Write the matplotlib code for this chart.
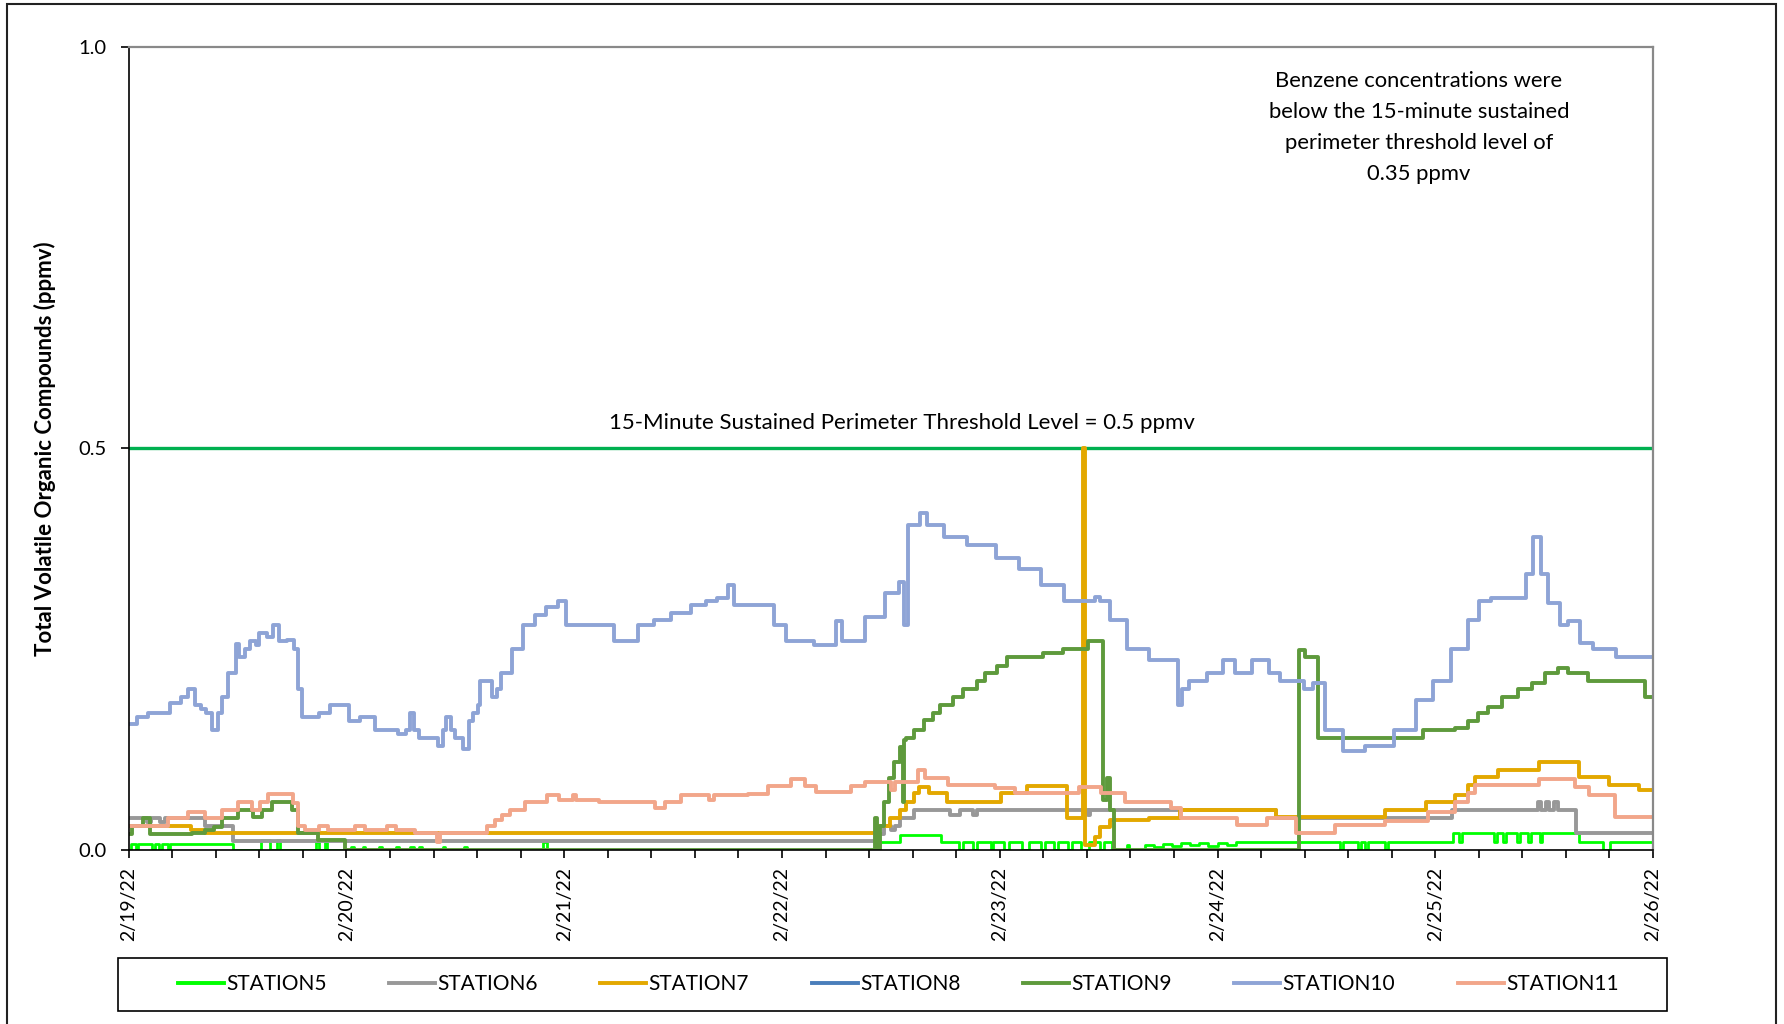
import matplotlib
matplotlib.use("Agg")
import matplotlib.pyplot as plt
from matplotlib.lines import Line2D
from matplotlib.patches import Rectangle
from matplotlib.ticker import MultipleLocator, FixedLocator, FixedFormatter
import numpy as np

plt.rcParams['font.family'] = ['Lato', 'DejaVu Sans']

# x axis: hours after 2/19/22 00:00, y: ppmv
DATE_LABELS = ["2/19/22", "2/20/22", "2/21/22", "2/22/22", "2/23/22", "2/24/22", "2/25/22", "2/26/22"]
STATIONS = ["STATION5", "STATION6", "STATION7", "STATION8", "STATION9", "STATION10", "STATION11"]
COLORS = ["#00FF00", "#989898", "#E3A800", "#4A7EBB", "#5E9A3C", "#8EA4D6", "#F2A68A"]
THRESHOLD = 0.5

STATION5 = [(0, 0.0), (0.3, 0.007), (0.8, 0.0), (1.0, 0.007), (2.6, 0.0), (2.9, 0.007), (3.4, 0.0),
            (3.7, 0.007), (4.3, 0.0), (4.6, 0.007), (11.5, 0.0), (14.6, 0.013), (15.6, 0.0),
            (16.4, 0.013), (16.7, 0.0), (20.6, 0.01), (21.0, 0.0), (21.6, 0.01), (21.9, 0.0),
            (24.5, 0.004), (24.8, 0.0), (25.8, 0.004), (26.1, 0.0), (27.6, 0.004), (27.9, 0.0),
            (29.5, 0.004), (29.8, 0.0), (31.0, 0.004), (31.4, 0.0), (32.0, 0.004), (32.3, 0.0),
            (34.6, 0.004), (34.9, 0.0), (37.0, 0.004), (37.3, 0.0), (45.7, 0.01), (46.1, 0.0),
            (82.6, 0.01), (85.0, 0.019), (89.5, 0.01), (91.5, 0.0), (92.0, 0.01), (93.0, 0.0),
            (93.5, 0.01), (95.0, 0.0), (95.3, 0.01), (96.5, 0.0), (97.0, 0.01), (98.5, 0.0),
            (99.2, 0.01), (100.5, 0.0), (101.0, 0.01), (102.0, 0.0), (102.4, 0.01), (103.5, 0.0),
            (104.0, 0.01), (105.0, 0.0), (105.8, 0.01), (107.0, 0.0), (107.5, 0.01), (108.4, 0.0),
            (110.0, 0.006), (110.3, 0.0), (112.0, 0.006), (113.0, 0.004), (114.0, 0.008),
            (115.0, 0.005), (116.0, 0.009), (117.0, 0.006), (118.0, 0.009), (119.0, 0.005),
            (120.0, 0.009), (121.0, 0.006), (122.0, 0.01), (133.5, 0.0), (133.8, 0.01),
            (135.5, 0.0), (135.8, 0.01), (136.3, 0.0), (136.6, 0.01), (138.5, 0.0), (138.8, 0.01),
            (146.0, 0.021), (146.6, 0.01), (146.9, 0.021), (150.5, 0.01), (150.8, 0.021),
            (151.5, 0.01), (151.8, 0.021), (153.0, 0.01), (153.3, 0.021), (154.2, 0.01),
            (154.5, 0.021), (155.5, 0.01), (155.8, 0.021), (159.8, 0.01), (162.5, 0.0),
            (163.3, 0.01), (168.0, 0.01)]

STATION6 = [(0, 0.04), (2.0, 0.035), (2.5, 0.04), (3.5, 0.035), (4.0, 0.04), (8.4, 0.03),
            (11.5, 0.011), (82.5, 0.02), (83.3, 0.03), (84.0, 0.025), (84.5, 0.03), (85.0, 0.04),
            (86.6, 0.05), (90.5, 0.043), (91.6, 0.05), (93.0, 0.043), (93.5, 0.05), (105.7, 0.043),
            (106.0, 0.05), (126.5, 0.04), (145.8, 0.05), (155.3, 0.06), (155.6, 0.05), (156.2, 0.06),
            (156.5, 0.05), (157.1, 0.06), (157.5, 0.05), (159.5, 0.021), (168.0, 0.021)]

STATION7 = [(0, 0.03), (6.9, 0.025), (8.4, 0.021), (82.5, 0.03), (83.9, 0.04), (85.0, 0.05),
            (85.7, 0.06), (86.6, 0.071), (87.1, 0.078), (88.2, 0.071), (90.2, 0.06), (96.1, 0.071),
            (99.0, 0.08), (103.4, 0.04), (105.2, 0.5), (105.45, 0.006), (106.5, 0.016),
            (107.1, 0.029), (108.2, 0.037), (112.4, 0.04), (115.9, 0.05), (126.5, 0.041),
            (138.5, 0.05), (143.0, 0.06), (146.2, 0.068), (147.6, 0.081), (148.4, 0.091),
            (150.9, 0.1), (155.4, 0.11), (159.8, 0.091), (163.1, 0.081), (166.4, 0.075),
            (168.0, 0.075)]

STATION8 = []  # no readings shown

STATION9 = [(0, 0.02), (0.4, 0.03), (1.6, 0.04), (2.4, 0.02), (7.0, 0.021), (8.4, 0.025),
            (9.4, 0.029), (10.3, 0.04), (12.0, 0.05), (13.7, 0.041), (14.7, 0.05), (15.8, 0.06),
            (18.0, 0.05), (18.7, 0.021), (20.9, 0.013), (23.9, 0.0), (82.2, 0.04), (82.5, 0.0),
            (82.8, 0.03), (83.2, 0.06), (83.8, 0.09), (84.4, 0.11), (85.0, 0.128), (85.3, 0.06),
            (85.4, 0.137), (85.7, 0.14), (86.5, 0.15), (87.6, 0.162), (88.7, 0.17), (89.4, 0.18),
            (90.9, 0.19), (92.0, 0.2), (93.5, 0.21), (94.4, 0.22), (95.7, 0.229), (96.8, 0.24),
            (100.8, 0.245), (103.0, 0.25), (105.7, 0.26), (107.4, 0.062), (107.8, 0.09),
            (108.2, 0.05), (108.6, 0.0), (129.0, 0.249), (129.6, 0.24), (131.1, 0.14),
            (142.7, 0.15), (146.2, 0.152), (147.6, 0.16), (148.7, 0.17), (149.8, 0.178),
            (151.3, 0.19), (153.1, 0.2), (154.7, 0.208), (156.1, 0.22), (157.5, 0.227),
            (158.6, 0.22), (160.8, 0.21), (167.1, 0.19), (168.0, 0.19)]

STATION10 = [(0, 0.157), (0.9, 0.165), (2.1, 0.17), (4.6, 0.183), (5.8, 0.19), (6.5, 0.20),
             (7.3, 0.18), (8.0, 0.175), (8.5, 0.17), (9.2, 0.15), (9.8, 0.17), (10.3, 0.19),
             (11.0, 0.22), (11.8, 0.256), (12.2, 0.24), (12.8, 0.25), (13.4, 0.26), (14.0, 0.255),
             (14.4, 0.27), (15.3, 0.265), (15.9, 0.28), (16.6, 0.26), (17.5, 0.262), (18.2, 0.25),
             (18.7, 0.20), (19.1, 0.165), (21.0, 0.17), (22.2, 0.18), (24.3, 0.16), (25.5, 0.165),
             (27.2, 0.15), (29.7, 0.145), (30.6, 0.15), (31.0, 0.17), (31.5, 0.15), (32.0, 0.14),
             (34.1, 0.13), (34.6, 0.15), (35.0, 0.165), (35.5, 0.15), (36.0, 0.14), (36.9, 0.126),
             (37.5, 0.16), (38.0, 0.17), (38.5, 0.18), (38.7, 0.21), (40.0, 0.19), (40.6, 0.2),
             (41.0, 0.22), (42.3, 0.25), (43.5, 0.28), (44.8, 0.293), (46.0, 0.303), (47.3, 0.31),
             (48.2, 0.28), (51.0, 0.28), (53.5, 0.26), (56.1, 0.28), (57.9, 0.286), (59.8, 0.295),
             (62.0, 0.305), (63.6, 0.31), (64.8, 0.314), (66.1, 0.33), (66.7, 0.305), (71.1, 0.28),
             (72.4, 0.26), (75.5, 0.255), (78.0, 0.285), (78.6, 0.26), (81.1, 0.29), (83.4, 0.32),
             (84.9, 0.333), (85.4, 0.28), (85.9, 0.405), (87.2, 0.42), (88.0, 0.405), (89.9, 0.39),
             (92.4, 0.38), (95.6, 0.364), (98.1, 0.35), (100.6, 0.33), (103.1, 0.31),
             (106.5, 0.315), (107.0, 0.31), (108.1, 0.286), (110.0, 0.25), (112.5, 0.236),
             (115.6, 0.18), (116.1, 0.2), (116.9, 0.21), (118.8, 0.22), (120.6, 0.236),
             (121.9, 0.22), (123.8, 0.236), (125.7, 0.22), (126.9, 0.21), (129.5, 0.2),
             (130.5, 0.208), (131.9, 0.15), (133.8, 0.123), (136.3, 0.13), (139.4, 0.15),
             (141.9, 0.187), (143.8, 0.21), (145.7, 0.25), (147.6, 0.286), (148.8, 0.31),
             (150.1, 0.314), (153.2, 0.314), (154.0, 0.343), (154.8, 0.39), (155.7, 0.343),
             (156.4, 0.307), (157.8, 0.28), (158.6, 0.285), (159.9, 0.258), (161.4, 0.25),
             (163.9, 0.24), (168.0, 0.24)]

STATION11 = [(0, 0.03), (4.3, 0.04), (6.5, 0.047), (8.4, 0.04), (10.3, 0.05), (12.0, 0.06),
             (13.6, 0.05), (14.5, 0.06), (15.4, 0.07), (18.1, 0.058), (18.7, 0.03), (19.4, 0.025),
             (21.0, 0.03), (22.0, 0.025), (25.0, 0.03), (26.0, 0.025), (28.5, 0.03), (29.5, 0.025),
             (31.6, 0.021), (34.0, 0.01), (34.3, 0.021), (39.5, 0.03), (40.4, 0.037), (41.2, 0.043),
             (42.0, 0.05), (43.7, 0.06), (46.1, 0.068), (47.4, 0.062), (49.0, 0.068), (49.3, 0.062),
             (51.8, 0.06), (58.0, 0.052), (59.1, 0.06), (60.9, 0.068), (64.0, 0.062), (64.5, 0.068),
             (68.3, 0.07), (70.5, 0.08), (73.0, 0.088), (74.5, 0.08), (75.8, 0.072), (79.6, 0.08),
             (81.1, 0.085), (84.0, 0.075), (84.5, 0.085), (87.0, 0.1), (87.8, 0.09), (90.3, 0.081),
             (95.5, 0.077), (97.7, 0.071), (104.7, 0.078), (107.2, 0.071), (109.8, 0.06),
             (114.9, 0.052), (116.0, 0.04), (122.2, 0.031), (125.5, 0.04), (128.7, 0.021),
             (133.0, 0.031), (138.5, 0.036), (143.2, 0.047), (146.2, 0.06), (147.6, 0.071),
             (148.4, 0.081), (155.4, 0.089), (159.4, 0.079), (160.9, 0.068), (163.8, 0.041),
             (168.0, 0.041)]

SERIES = [STATION5, STATION6, STATION7, STATION8, STATION9, STATION10, STATION11]

fig = plt.figure(figsize=(17.84, 10.24), dpi=100)
ax = fig.add_axes([0.0721, 0.1699, 0.8545, 0.7846])

ax.axhline(THRESHOLD, color="#00B050", lw=2.4, zorder=1)

for name, data, color in zip(STATIONS, SERIES, COLORS):
    if not data:
        continue
    hours = np.array([p[0] for p in data]) / 24.0
    vals = np.array([p[1] for p in data])
    lw = 2.0 if name == "STATION5" else 2.8
    ax.plot(hours, vals, color=color, lw=lw, drawstyle="steps-post", zorder=2)

ax.set_xlim(0, 7)
ax.set_ylim(0, 1)
ax.xaxis.set_major_locator(FixedLocator(range(len(DATE_LABELS))))
ax.xaxis.set_major_formatter(FixedFormatter(DATE_LABELS))
ax.xaxis.set_minor_locator(MultipleLocator(0.2))
ax.set_yticks([0, 0.5, 1.0])
ax.set_yticklabels(["0.0", "0.5", "1.0"])
ax.tick_params(axis="x", which="both", direction="out", length=6, width=1.2, labelsize=14,
               labelrotation=90, pad=6)
ax.tick_params(axis="y", direction="out", length=6, width=1.2, labelsize=14.5, pad=10)

for side in ["left", "bottom"]:
    ax.spines[side].set_color("black")
    ax.spines[side].set_linewidth(1.2)
for side in ["top", "right"]:
    ax.spines[side].set_color("#898989")
    ax.spines[side].set_linewidth(1.6)

ax.set_ylabel("Total Volatile Organic Compounds (ppmv)", fontsize=16, fontweight="bold")
ax.yaxis.set_label_coords(-0.0478, 0.5)

ax.text(3.55, 0.531, "15-Minute Sustained Perimeter Threshold Level = 0.5 ppmv",
        ha="center", va="center", fontsize=16)
ax.text(0.8465, 0.899,
        "Benzene concentrations were\nbelow the 15-minute sustained\nperimeter threshold level of\n0.35 ppmv",
        transform=ax.transAxes, ha="center", va="center", fontsize=15.8, linespacing=1.68)

handles = [Line2D([], [], color=c, lw=2.8) for c in COLORS]
fig.legend(handles, STATIONS, loc="center", bbox_to_anchor=(0.5035, 0.0386), ncol=7,
           frameon=False, fontsize=15, handlelength=2.2, handletextpad=0.12, columnspacing=3.0)
fig.patches.append(Rectangle((118 / 1784, 1 - 1011 / 1024), (1667 - 118) / 1784, 53 / 1024,
                             transform=fig.transFigure, fill=False, ec="black", lw=1.2))
# outer chart border
fig.patches.append(Rectangle((7 / 1784, -0.01), (1776 - 7) / 1784, 1.01 - 4 / 1024,
                             transform=fig.transFigure, fill=False, ec="#222222", lw=1.5))

fig.savefig("out.png", dpi=100)
